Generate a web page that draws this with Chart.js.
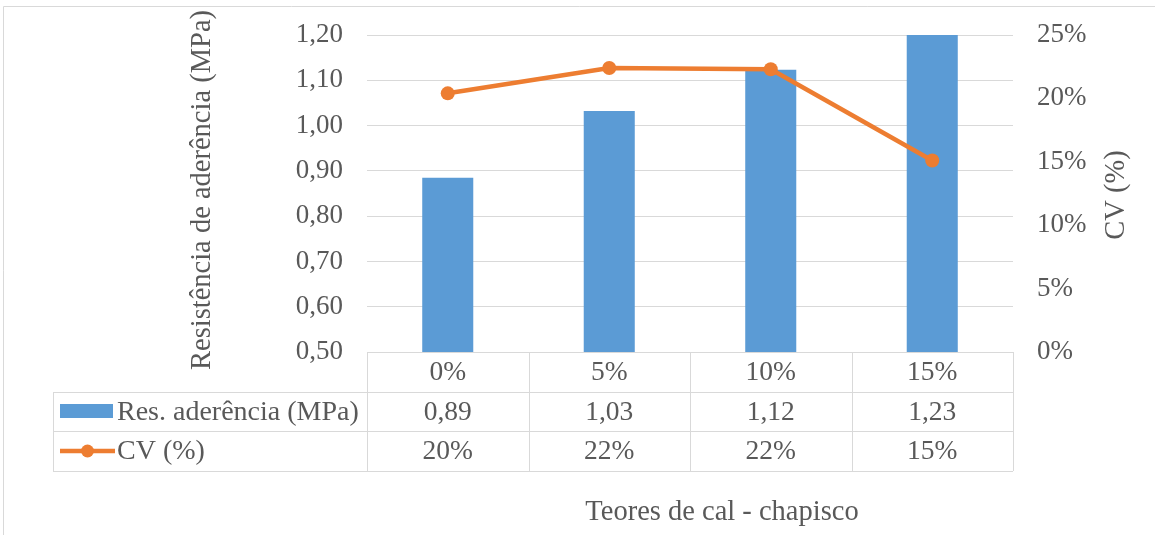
<!DOCTYPE html>
<html>
<head>
<meta charset="utf-8">
<script src="https://cdn.jsdelivr.net/npm/chart.js@4/dist/chart.umd.min.js"></script>
<style>
  html, body { margin: 0; padding: 0; background: #fff; }
  #wrap { width: 1155px; height: 535px; position: relative; }
</style>
</head>
<body>
<div id="wrap"><canvas id="c" width="1155" height="535"></canvas></div>
<script>
const categories = ['0%', '5%', '10%', '15%'];
const resValues = [0.885, 1.032, 1.123, 1.23];
const cvValues = [20.4, 22.4, 22.3, 15.1];
const resLabels = ['0,89', '1,03', '1,12', '1,23'];
const cvLabels = ['20%', '22%', '22%', '15%'];
const seriesNames = ['Res. aderência (MPa)', 'CV (%)'];
const leftTitle = 'Resistência de aderência (MPa)';
const rightTitle = 'CV (%)';
const xTitle = 'Teores de cal - chapisco';

const FONT = '"Liberation Serif", "Times New Roman", serif';
const TXT = '#595959';
const GRID = '#D9D9D9';
const BLUE = '#5B9BD5';
const ORANGE = '#ED7D31';

const tablePlugin = {
  id: 'tablePlugin',
  beforeDraw(chart) {
    const ctx = chart.ctx;
    ctx.save();
    ctx.strokeStyle = GRID;
    ctx.lineWidth = 1;
    ctx.beginPath();
    ctx.moveTo(3.5, 535); ctx.lineTo(3.5, 6.5); ctx.lineTo(1155, 6.5);
    ctx.stroke();
    ctx.restore();
  },
  afterDraw(chart) {
    const ctx = chart.ctx;
    const x = chart.scales.x;
    const area = chart.chartArea;
    const n = categories.length;
    const cw = (area.right - area.left) / n;
    const top = area.bottom;
    const r1 = top + 40, r2 = r1 + 39, r3 = r2 + 40;
    const tLeft = 53;
    ctx.save();
    ctx.strokeStyle = GRID;
    ctx.lineWidth = 1;
    ctx.beginPath();
    ctx.moveTo(area.left, Math.round(top) + 0.5); ctx.lineTo(area.right, Math.round(top) + 0.5);
    [r1, r2, r3].forEach(y => { ctx.moveTo(tLeft, Math.round(y) + 0.5); ctx.lineTo(area.right, Math.round(y) + 0.5); });
    for (let i = 0; i <= n; i++) {
      const vx = Math.round(area.left + i * cw) + 0.5;
      ctx.moveTo(vx, top); ctx.lineTo(vx, r3);
    }
    ctx.moveTo(tLeft + 0.5, r1); ctx.lineTo(tLeft + 0.5, r3);
    ctx.stroke();

    ctx.fillStyle = TXT;
    ctx.font = '27.5px ' + FONT;
    ctx.textAlign = 'center';
    ctx.textBaseline = 'middle';
    for (let i = 0; i < n; i++) {
      const cx = x.getPixelForValue(i);
      ctx.fillText(categories[i], cx, (top + r1) / 2 + 1);
      ctx.fillText(resLabels[i], cx, (r1 + r2) / 2 + 1);
      ctx.fillText(cvLabels[i], cx, (r2 + r3) / 2 + 1);
    }
    ctx.fillStyle = BLUE;
    ctx.fillRect(60, 404, 53, 14);
    ctx.strokeStyle = ORANGE;
    ctx.lineWidth = 4.5;
    ctx.beginPath(); ctx.moveTo(60, 451); ctx.lineTo(115, 451); ctx.stroke();
    ctx.fillStyle = ORANGE;
    ctx.beginPath(); ctx.arc(87.5, 451, 6.5, 0, Math.PI * 2); ctx.fill();
    ctx.fillStyle = TXT;
    ctx.textAlign = 'left';
    ctx.font = '28px ' + FONT;
    ctx.fillText(seriesNames[0], 117, (r1 + r2) / 2 + 1);
    ctx.fillText(seriesNames[1], 117, (r2 + r3) / 2 + 1);

    ctx.font = '28.5px ' + FONT;
    ctx.textAlign = 'center';
    ctx.fillText(xTitle, 722, 513);
    ctx.save();
    ctx.translate(203, 190);
    ctx.rotate(-Math.PI / 2);
    ctx.fillText(leftTitle, 0, 0);
    ctx.restore();
    ctx.save();
    ctx.translate(1117, 195);
    ctx.rotate(-Math.PI / 2);
    ctx.fillText(rightTitle, 0, 0);
    ctx.restore();
    ctx.restore();
  }
};

function fixV(width) {
  return function (s) { s.width = width; s.paddingTop = 0; s.paddingBottom = 0; };
}

new Chart(document.getElementById('c'), {
  data: {
    labels: categories,
    datasets: [
      {
        type: 'line',
        label: seriesNames[1],
        data: cvValues,
        yAxisID: 'y1',
        borderColor: ORANGE,
        backgroundColor: ORANGE,
        borderWidth: 4.5,
        pointRadius: 7,
        pointBorderWidth: 0,
        pointBackgroundColor: ORANGE,
        tension: 0,
        order: 0
      },
      {
        type: 'bar',
        label: seriesNames[0],
        data: resValues,
        yAxisID: 'y',
        backgroundColor: BLUE,
        barPercentage: 0.316,
        categoryPercentage: 1,
        order: 1
      }
    ]
  },
  options: {
    responsive: false,
    animation: false,
    devicePixelRatio: 1,
    layout: { padding: { top: 35, bottom: 183, left: 0, right: 0 } },
    plugins: { legend: { display: false }, tooltip: { enabled: false } },
    scales: {
      x: { display: false, offset: true },
      y: {
        position: 'left',
        min: 0.5, max: 1.2,
        afterFit: fixV(367),
        border: { display: false },
        grid: { color: GRID, drawTicks: false, lineWidth: (c) => c.tick && c.tick.value <= 0.5001 ? 0 : 1 },
        ticks: {
          stepSize: 0.1,
          padding: 24,
          color: TXT,
          font: { family: FONT, size: 27 },
          callback: (v) => v.toFixed(2).replace('.', ',')
        }
      },
      y1: {
        position: 'right',
        min: 0, max: 25,
        afterFit: fixV(142),
        border: { display: false },
        grid: { display: false, drawTicks: false },
        ticks: {
          stepSize: 5,
          padding: 24,
          color: TXT,
          font: { family: FONT, size: 27 },
          callback: (v) => v + '%'
        }
      }
    }
  },
  plugins: [tablePlugin]
});
</script>
</body>
</html>
